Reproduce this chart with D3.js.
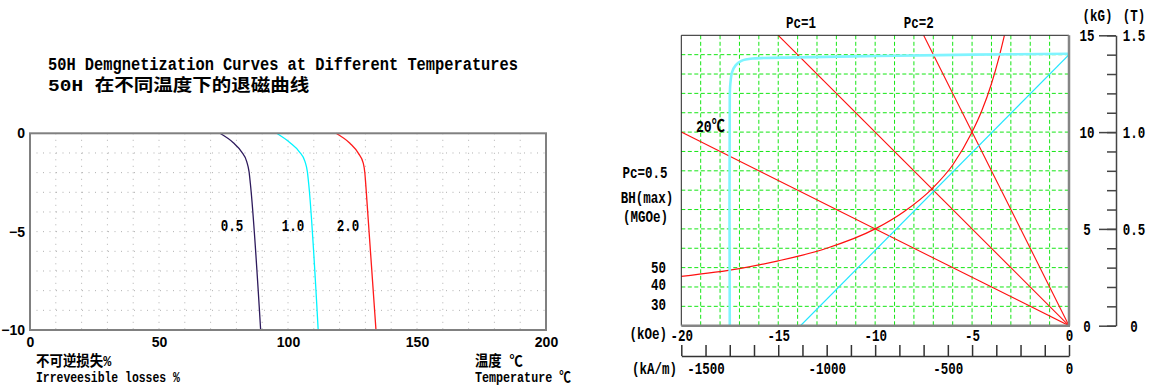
<!DOCTYPE html>
<html>
<head>
<meta charset="utf-8">
<script src="https://cdn.jsdelivr.net/npm/d3@7"></script>
<style>
  body { margin: 0; background: #fff; }
  svg { display: block; }
</style>
</head>
<body>
<svg id="chart" width="1155" height="390"></svg>
<script>

// ---- left chart: irreversible loss (%) vs temperature, one curve per Pc ----
const tempTicks = [0, 50, 100, 150, 200];
const lossTicks = [0, -5, -10];
const pcNames = ["0.5", "1.0", "2.0"];
const pcColors = ["#2d1a5c", "#00f4ff", "#ff1a1a"];
const loss05 = [[73.6, 0], [78.8, -0.48], [82.0, -0.94], [84.0, -1.44], [84.9, -1.95], [85.4, -2.54], [89.4, -10]];
const loss10 = [[95.6, 0], [100.8, -0.48], [104.4, -0.94], [106.6, -1.44], [107.5, -1.95], [108.0, -2.54], [111.7, -10]];
const loss20 = [[118.6, 0], [124.0, -0.51], [127.3, -1.02], [129.2, -1.53], [129.8, -2.03], [130.2, -2.71], [134.1, -10]];
const pcLabelAt = [[78.3, -4.97], [101.9, -4.97], [123.3, -4.97]];

// ---- right chart: demagnetization curves at 20C (H in kOe, B in kG) ----
const hTicks = [-20, -15, -10, -5, 0];
const bTicks = [0, 5, 10, 15];
const teslaTicks = [0, 0.5, 1.0, 1.5];
const kamTicks = [-1500, -1000, -500, 0];
const normalCurve = [[0, 14.0], [-13.85, 0]];
const intrinsicCurve = [[0, 14.05], [-5, 14.0], [-10, 13.93], [-14, 13.86], [-16.3, 13.8], [-16.9, 13.68],
  [-17.2, 13.45], [-17.38, 13.1], [-17.47, 12.5], [-17.5, 11.8], [-17.5, 0]];
const bhMax50 = [[-20, 2.55], [-17, 2.95], [-15, 3.35], [-12.5, 4.0], [-10, 5.0], [-8.5, 5.9], [-7.07, 7.07],
  [-6, 8.3], [-5, 10], [-4.5, 11.1], [-4, 12.5], [-3.6, 13.9], [-3.33, 15]];
const pcLines = [[[-20, 10], [0, 0]], [[-15, 15], [0, 0]], [[-7.5, 15], [0, 0]]];
const pcTopLabels = ["Pc=1", "Pc=2"];
const pcTopAt = [[-13.83, 15.4], [-7.75, 15.4]];
const bhLabels = ["50", "40", "30"];
const bhLabelB = [3.02, 2.14, 1.1];

const MONO = "'Liberation Mono', 'Noto Sans CJK SC', monospace";
const SANS = "'Liberation Sans', Arial, sans-serif";

// half width / full width like the original SimSun text; em = full-width size
function units(s) {
  let u = 0;
  for (const ch of s) {
    const c = ch.codePointAt(0);
    u += (c >= 0x2E80 || c === 0x2103) ? 1 : 0.5;
  }
  return u;
}
function fit(sel, em) {
  sel.attr("textLength", function() { return units(this.textContent) * em; })
     .attr("lengthAdjust", "spacingAndGlyphs");
}

const svg = d3.select("#chart");

// ================= left chart =================
const L = {left: 30, right: 546, top: 133.3, bottom: 330};
const xT = d3.scaleLinear().domain([0, 200]).range([L.left, L.right]);
const yL = d3.scaleLinear().domain([-10, 0]).range([L.bottom, L.top]);

const gl = svg.append("g");

gl.append("text").attr("x", 48).attr("y", 70)
  .attr("font-family", MONO).attr("font-weight", "bold").attr("font-size", 19)
  .text("50H Demgnetization Curves at Different Temperatures")
  .call(fit, 18.43);
gl.append("text").attr("x", 48).attr("y", 91)
  .attr("font-family", MONO).attr("font-weight", "bold").attr("font-size", 17)
  .text("50H 在不同温度下的退磁曲线")
  .call(fit, 20.1);

// dotted grid
gl.append("g").selectAll("line").data(d3.range(10, 200, 10)).join("line")
  .attr("x1", d => xT(d)).attr("x2", d => xT(d)).attr("y1", L.top).attr("y2", L.bottom)
  .attr("stroke", "#b0b0b0").attr("stroke-dasharray", "1,5.5");
gl.append("g").selectAll("line").data(d3.range(-9, 0, 1)).join("line")
  .attr("y1", d => yL(d)).attr("y2", d => yL(d)).attr("x1", L.left).attr("x2", L.right)
  .attr("stroke", "#b0b0b0").attr("stroke-dasharray", "1,5.5");

const lossLine = d3.line().x(d => xT(d[0])).y(d => yL(d[1])).curve(d3.curveMonotoneX);
[loss05, loss10, loss20].forEach((c, i) => {
  gl.append("path").datum(c).attr("d", lossLine)
    .attr("fill", "none").attr("stroke", pcColors[i]).attr("stroke-width", 1.3);
});

gl.append("g").selectAll("text").data(pcNames).join("text")
  .attr("x", (d, i) => xT(pcLabelAt[i][0])).attr("y", (d, i) => yL(pcLabelAt[i][1]))
  .attr("text-anchor", "middle")
  .attr("font-family", MONO).attr("font-weight", "bold").attr("font-size", 17)
  .text(d => d)
  .call(fit, 15);

gl.append("rect").attr("x", L.left).attr("y", L.top)
  .attr("width", L.right - L.left).attr("height", L.bottom - L.top)
  .attr("fill", "none").attr("stroke", "#808080").attr("stroke-width", 2);

const yAxisL = gl.append("g").attr("transform", `translate(${L.left},0)`)
  .call(d3.axisLeft(yL).tickValues(lossTicks).tickSize(0).tickPadding(5)
    .tickFormat(d => d === 0 ? "0" : "\u2212" + Math.abs(d)));
const xAxisL = gl.append("g").attr("transform", `translate(0,${L.bottom})`)
  .call(d3.axisBottom(xT).tickValues(tempTicks).tickSize(0).tickPadding(7));
[yAxisL, xAxisL].forEach(a => {
  a.select(".domain").remove();
  a.selectAll("text").attr("font-family", SANS).attr("font-weight", "bold")
    .attr("font-size", 14).attr("fill", "#000");
});

const bottomLeft = [["不可逆损失%", 36, 366], ["Irreveesible losses %", 36, 382],
                    ["温度 ℃", 475, 366], ["Temperature ℃", 475, 382]];
gl.append("g").selectAll("text").data(bottomLeft).join("text")
  .attr("x", d => d[1]).attr("y", d => d[2])
  .attr("font-family", MONO).attr("font-weight", "bold").attr("font-size", 15)
  .text(d => d[0])
  .call(fit, 13.7);

// ================= right chart =================
const R = {left: 681.3, right: 1069, top: 35.3, bottom: 325.7};
const xH = d3.scaleLinear().domain([-20, 0]).range([R.left, R.right]);
const yB = d3.scaleLinear().domain([0, 15]).range([R.bottom, R.top]);
const yT = d3.scaleLinear().domain([0, 1.5]).range([R.bottom, R.top]);
const xKam = d3.scaleLinear().domain([-1600, 0]).range([R.left, R.right]);

const gr = svg.append("g");

// green dashed grid every 1 kOe / 1 kG
gr.append("g").selectAll("line").data(d3.range(-19, 0, 1)).join("line")
  .attr("x1", d => xH(d)).attr("x2", d => xH(d)).attr("y1", R.top).attr("y2", R.bottom)
  .attr("stroke", "#14e614").attr("stroke-dasharray", "4,2.5");
gr.append("g").selectAll("line").data(d3.range(1, 15, 1)).join("line")
  .attr("y1", d => yB(d)).attr("y2", d => yB(d)).attr("x1", R.left).attr("x2", R.right)
  .attr("stroke", "#14e614").attr("stroke-dasharray", "4,2.5");

gr.append("clipPath").attr("id", "rclip").append("rect")
  .attr("x", R.left).attr("y", R.top).attr("width", R.right - R.left).attr("height", R.bottom - R.top);

const plot = gr.append("g").attr("clip-path", "url(#rclip)");
const straight = d3.line().x(d => xH(d[0])).y(d => yB(d[1]));

pcLines.forEach(p => {
  plot.append("path").datum(p).attr("d", straight)
    .attr("fill", "none").style("stroke", "#ff1010").attr("stroke-width", 1.1);
});
plot.append("path").datum(bhMax50)
  .attr("d", d3.line().x(d => xH(d[0])).y(d => yB(d[1])).curve(d3.curveMonotoneX))
  .attr("fill", "none").attr("stroke", "#ff1010").attr("stroke-width", 1.2);
plot.append("path").datum(intrinsicCurve)
  .attr("d", d3.line().x(d => xH(d[0])).y(d => yB(d[1])).curve(d3.curveCatmullRom.alpha(0.5)))
  .attr("fill", "none").attr("stroke", "#80f4ff").attr("stroke-width", 2.6);
plot.append("path").datum(normalCurve).attr("d", straight)
  .attr("fill", "none").attr("stroke", "#22e6ff").attr("stroke-width", 1.2);

// frame: dark top/left, grey bottom/right
gr.append("line").attr("x1", R.left).attr("x2", R.right).attr("y1", R.top).attr("y2", R.top)
  .attr("stroke", "#222").attr("stroke-width", 1);
gr.append("line").attr("x1", R.left).attr("x2", R.left).attr("y1", R.top).attr("y2", R.bottom)
  .attr("stroke", "#222").attr("stroke-width", 1);
gr.append("line").attr("x1", R.left).attr("x2", R.right + 1).attr("y1", R.bottom).attr("y2", R.bottom)
  .attr("stroke", "#858585").attr("stroke-width", 2.5);
gr.append("line").attr("x1", R.right).attr("x2", R.right).attr("y1", R.top).attr("y2", R.bottom)
  .attr("stroke", "#858585").attr("stroke-width", 2.5);

function monoText(sel, size, em) {
  sel.attr("font-family", MONO).attr("font-weight", "bold").attr("font-size", size)
    .attr("fill", "#000").call(fit, em);
}

// kOe axis labels
const xAxisR = gr.append("g").attr("transform", `translate(0,${R.bottom})`)
  .call(d3.axisBottom(xH).tickValues(hTicks).tickSize(0).tickPadding(3)
    .tickFormat(d => d === 0 ? "0" : "-" + Math.abs(d)));
xAxisR.select(".domain").remove();
xAxisR.selectAll("text").call(monoText, 17, 15);

// kA/m axis
const kamY = 356;
const kamTickAxis = gr.append("g").attr("transform", `translate(0,${kamY})`)
  .call(d3.axisTop(xKam).tickValues(d3.range(-1600, 1, 100)).tickSize(11).tickSizeOuter(0).tickFormat(""));
kamTickAxis.selectAll("line, path").attr("stroke", "#333").attr("stroke-width", 1.5);
const kamLabels = gr.append("g").attr("transform", `translate(0,${kamY})`)
  .call(d3.axisBottom(xKam).tickValues(kamTicks).tickSize(0).tickPadding(6)
    .tickFormat(d => d === 0 ? "0" : "-" + Math.abs(d)));
kamLabels.select(".domain").remove();
kamLabels.selectAll("text").call(monoText, 17, 15);

// kG / T axis on the right
const axX = 1116;
const minor = gr.append("g").attr("transform", `translate(${axX},0)`)
  .call(d3.axisLeft(yB).tickValues(d3.range(0, 16, 1)).tickSize(9).tickSizeOuter(0).tickFormat(""));
minor.selectAll("line, path").attr("stroke", "#444").attr("stroke-width", 1.5);
const major = gr.append("g").attr("transform", `translate(${axX},0)`)
  .call(d3.axisLeft(yB).tickValues(bTicks).tickSize(17).tickPadding(6));
major.select(".domain").remove();
major.selectAll("line").attr("stroke", "#444").attr("stroke-width", 1.5);
major.selectAll("text").attr("x", -29).attr("text-anchor", "middle").call(monoText, 17, 15);
const tesla = gr.append("g").attr("transform", `translate(${axX},0)`)
  .call(d3.axisRight(yT).tickValues(teslaTicks).tickSize(0)
    .tickFormat(d => d === 0 ? "0" : d3.format(".1f")(d)));
tesla.select(".domain").remove();
tesla.selectAll("text").attr("x", 18).attr("text-anchor", "middle").call(monoText, 17, 15);

// unit and curve labels
const rLabels = [
  ["(kG)", 1097.5, 21, "middle"], ["(T)", 1134, 21, "middle"],
  ["(kOe)", 667, 339, "end"], ["(kA/m)", 677, 374, "end"],
  ["Pc=0.5", 645, 178, "middle"], ["BH(max)", 647, 203, "middle"], ["(MGOe)", 645.5, 222, "middle"]
];
gr.append("g").selectAll("text").data(rLabels).join("text")
  .attr("x", d => d[1]).attr("y", d => d[2]).attr("text-anchor", d => d[3])
  .text(d => d[0]).call(monoText, 17, 15);

gr.append("g").selectAll("text").data(pcTopLabels).join("text")
  .attr("x", (d, i) => xH(pcTopAt[i][0])).attr("y", (d, i) => yB(pcTopAt[i][1]))
  .attr("text-anchor", "middle").text(d => d).call(monoText, 17, 15);

gr.append("g").selectAll("text").data(bhLabels).join("text")
  .attr("x", xH(-20.79)).attr("y", (d, i) => yB(bhLabelB[i])).attr("dy", "0.35em")
  .attr("text-anchor", "end").text(d => d).call(monoText, 17, 15);

gr.append("text").attr("x", xH(-18.5)).attr("y", yB(10.0)).attr("text-anchor", "middle")
  .text("20℃").call(monoText, 17, 14.5);

</script>
</body>
</html>
